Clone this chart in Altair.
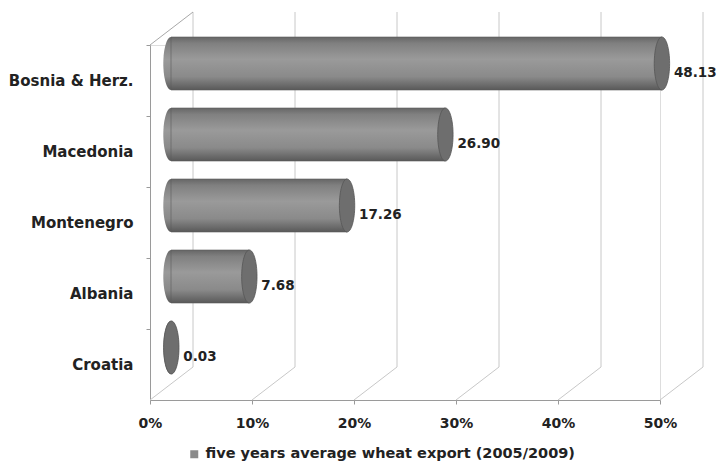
import altair as alt
import pandas as pd

countries = ["Bosnia & Herz.", "Macedonia", "Montenegro", "Albania", "Croatia"]
values = [48.13, 26.90, 17.26, 7.68, 0.03]
value_labels = ["48.13", "26.90", "17.26", "7.68", "0.03"]
tick_values = [0, 10, 20, 30, 40, 50]
series_name = "five years average wheat export (2005/2009)"

bars = pd.DataFrame({"country": countries, "value": values, "label": value_labels,
                     "zero": [0] * len(countries),
                     "series": [series_name] * len(countries)})
ticks = pd.DataFrame({"t": tick_values})
one = pd.DataFrame({"a": [0]})

DX, DY = 43, -33          # depth of the 3D box
MX, MY = 21, -17          # middle depth (bars)
FONT = "DejaVu Sans"

X_SCALE = alt.Scale(domain=[0, 50], nice=False, zero=True, padding=0)
X_AX = alt.Axis(values=tick_values, labelExpr="datum.value + '%'", title=None, grid=False,
                labelFlush=False, labelOverlap=False,
                domainColor="#9a9a9a", tickColor="#9a9a9a", tickSize=4, labelPadding=12,
                labelFont=FONT, labelFontWeight="bold", labelFontSize=14, labelColor="#222")
Y_SCALE = alt.Scale(domain=countries, paddingInner=0, paddingOuter=0)
Y_AX = alt.Axis(title=None, grid=False, bandPosition=0,
                domainColor="#9a9a9a", tickColor="#9a9a9a", tickSize=4, labelPadding=13,
                labelFont=FONT, labelFontWeight="bold", labelFontSize=15, labelColor="#222")

xq = alt.X("value:Q", scale=X_SCALE, axis=X_AX)
yq = alt.Y("country:N", scale=Y_SCALE, axis=Y_AX, sort=countries)

grid_col = "#c8c8c8"
floor = alt.Chart(ticks).mark_rule(color=grid_col, strokeWidth=1, x2Offset=DX).encode(
    x=alt.X("t:Q", scale=X_SCALE, axis=X_AX), x2="t:Q",
    y=alt.value(355), y2=alt.value(355 + DY))
back = alt.Chart(ticks).mark_rule(color=grid_col, strokeWidth=1, xOffset=DX).encode(
    x=alt.X("t:Q", scale=X_SCALE, axis=X_AX),
    y=alt.value(DY), y2=alt.value(355 + DY))
wall = alt.Chart(one).mark_rule(color="#a8a8a8", strokeWidth=1).encode(
    x=alt.value(0), x2=alt.value(DX), y=alt.value(0), y2=alt.value(DY))

ellipse = "M0,-1 A0.29,1 0 1,1 0,1 A0.29,1 0 1,1 0,-1 Z"
H = 53
body_grad = alt.Gradient(gradient="linear", x1=0, y1=0, x2=0, y2=1, stops=[
    alt.GradientStop(color="#666666", offset=0),
    alt.GradientStop(color="#808080", offset=0.12),
    alt.GradientStop(color="#9a9a9a", offset=0.42),
    alt.GradientStop(color="#8a8a8a", offset=0.75),
    alt.GradientStop(color="#595959", offset=1)])

left_cap = alt.Chart(bars).mark_point(shape=ellipse, size=H * H, filled=True, opacity=1,
                                      color=body_grad, strokeWidth=0,
                                      xOffset=MX, yOffset=MY).encode(
    x=alt.X("zero:Q", scale=X_SCALE, axis=X_AX), y=yq)
body = alt.Chart(bars).mark_bar(size=H, color=body_grad, stroke="#5a5a5a", strokeWidth=0.6,
                                xOffset=MX, x2Offset=MX, yOffset=MY, y2Offset=MY).encode(
    x=xq, y=yq)
right_cap = alt.Chart(bars).mark_point(shape=ellipse, size=H * H, filled=True, opacity=1,
                                       color="#6e6e6e", stroke="#555555", strokeWidth=0.8,
                                       xOffset=MX, yOffset=MY).encode(x=xq, y=yq)
labels = alt.Chart(bars).mark_text(align="left", baseline="middle", dx=12, xOffset=MX, yOffset=-8,
                                   font=FONT, fontWeight="bold", fontSize=13.5, color="#222").encode(
    x=xq, y=yq, text="label:N")
legend_layer = alt.Chart(bars).mark_square(opacity=0).encode(
    x=xq, y=yq,
    fill=alt.Fill("series:N", scale=alt.Scale(range=["#8a8a8a"]),
                  legend=alt.Legend(orient="none", legendX=37, legendY=402, title=None,
                                    symbolType="square", symbolSize=64, symbolOpacity=1,
                                    symbolStrokeWidth=0, labelFont=FONT, labelFontWeight="bold",
                                    labelFontSize=14.5, labelColor="#222", labelLimit=0)))

chart = alt.layer(floor, back, wall, left_cap, body, right_cap, labels, legend_layer).properties(
    width=510, height=355,
    autosize=alt.AutoSizeParams(type="none"),
    padding={"left": 142, "top": 37, "right": 57, "bottom": 64},
).configure_view(stroke=None).configure(background="white")

chart.save("out.html", embed_options={"renderer": "svg", "actions": False})
